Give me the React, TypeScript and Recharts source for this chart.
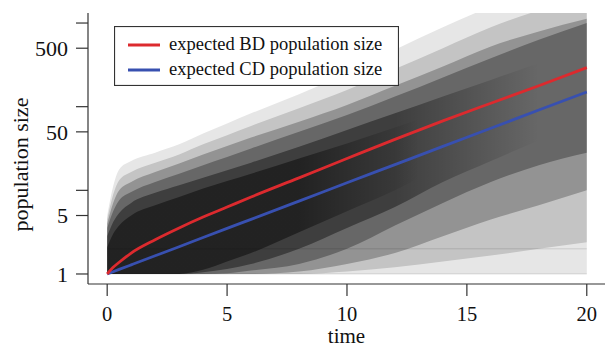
import React from "react";
import {
  ComposedChart,
  Area,
  Line,
  XAxis,
  YAxis,
  Legend,
  Label,
  ReferenceLine,
} from "recharts";

// ---- data ----
const times = [0, 0.25, 0.5, 1, 2, 3, 4, 5, 6, 8, 10, 12, 14, 16, 18, 20];
const bdExpected = [1, 1.2, 1.38, 1.78, 2.57, 3.55, 4.79, 6.31, 8.32, 14.1, 24.0, 40.7, 67.6, 110, 178, 293];
const cdExpected = [1, 1.065, 1.134, 1.285, 1.65, 2.12, 2.73, 3.51, 4.5, 7.43, 12.3, 20.3, 33.5, 55.2, 91.2, 150];

// simulated trajectory cloud, as nested envelopes (outer -> inner)
const band1Low = [1, 1, 1, 1, 1, 1, 1, 1, 1, 1, 1, 1, 1, 1, 1, 1];
const band1High = [5.0, 11.2, 17.8, 22.4, 28.2, 35.5, 47.9, 63.1, 83.2, 141, 251, 479, 891, 1585, 2818, 5012];
const band2Low = [1, 1, 1, 1, 1, 1, 1, 1, 1, 1, 1.07, 1.2, 1.41, 1.66, 2.0, 2.4];
const band2High = [4.47, 8.91, 13.2, 16.6, 21.4, 26.9, 35.5, 45.7, 58.9, 95.5, 158, 282, 501, 891, 1413, 2000];
const band3Low = [1, 1, 1, 1, 1, 1, 1, 1, 1, 1.07, 1.32, 1.78, 2.82, 4.47, 6.61, 10];
const band3High = [3.98, 7.08, 10, 12.6, 16.6, 20.9, 26.9, 33.9, 42.7, 66.1, 105, 178, 302, 525, 794, 1122];
const band4Low = [1, 1, 1, 1, 1, 1, 1, 1.02, 1.1, 1.32, 2.0, 3.8, 7.08, 12.6, 20, 28.2];
const band4High = [3.55, 5.62, 7.59, 9.55, 12.6, 15.8, 20, 25.1, 31.6, 50.1, 79.4, 132, 224, 380, 631, 1000];
const band5Low = [1, 1, 1, 1, 1, 1, 1.05, 1.15, 1.32, 2.0, 3.55, 6.31, 12.6, 22.4, 39.8, 70.8];
const band5High = [2.82, 4.17, 5.37, 7.08, 9.33, 11.5, 14.1, 17.4, 21.4, 33.1, 52.5, 83.2, 132, 209, 331, 525];
const band6Low = [1, 1, 1, 1, 1, 1, 1.12, 1.41, 1.78, 3.16, 5.62, 10, 20, 35.5, 63.1, 100];
const band6High = [2.09, 3.02, 3.8, 5.01, 6.61, 8.32, 10.5, 12.9, 15.8, 24.0, 36.3, 56.2, 89.1, 141, 224, 355];

// how dark each envelope is along time: [time, opacity] stops
const band1Shade = [[0, 0.1], [20, 0.1]];
const band2Shade = [[0, 0.15], [20, 0.15]];
const band3Shade = [[0, 0.25], [20, 0.25]];
const band4Shade = [[0, 0.3], [20, 0.3]];
const band5Shade = [[0, 0.4], [12, 0.4], [18, 0], [20, 0]];
const band6Shade = [[0, 0.45], [8, 0.45], [13, 0], [20, 0]];

const flatLevels = [1, 2];

const xTicks = [0, 5, 10, 15, 20];
const yTicks = [1, 5, 10, 50, 100, 500, 1000];
const yLabelled = [1, 5, 50, 500];

const bandLows = [band1Low, band2Low, band3Low, band4Low, band5Low, band6Low];
const bandHighs = [band1High, band2High, band3High, band4High, band5High, band6High];
const bandShades = [band1Shade, band2Shade, band3Shade, band4Shade, band5Shade, band6Shade];

const RED = "#dc2a2e";
const BLUE = "#3850b0";
const FONT = "'Liberation Serif', 'Times New Roman', serif";
const AXIS = "#333";
const T0 = times[0];
const T1 = times[times.length - 1];

const data = times.map((t, i) => {
  const row: Record<string, any> = { t, bd: bdExpected[i], cd: cdExpected[i] };
  bandLows.forEach((lo, b) => {
    row["band" + b] = [lo[i], bandHighs[b][i]];
  });
  return row;
});

const LegendBox = () => (
  <svg width={285} height={60} style={{ display: "block" }}>
    <rect x={0.5} y={0.5} width={284} height={59} fill="#fff" stroke={AXIS} strokeWidth={1.2} />
    <line x1={14} x2={46} y1={19} y2={19} stroke={RED} strokeWidth={3} />
    <text x={55} y={24} fontSize={18.5} fontFamily={FONT} fill="#111">
      expected BD population size
    </text>
    <line x1={14} x2={46} y1={44} y2={44} stroke={BLUE} strokeWidth={3} />
    <text x={55} y={49} fontSize={18.5} fontFamily={FONT} fill="#111">
      expected CD population size
    </text>
  </svg>
);

export default function App() {
  return (
    <div style={{ position: "absolute", left: 0, top: 0, fontFamily: FONT }}>
      <ComposedChart
        width={605}
        height={347}
        data={data}
        margin={{ top: 13, right: 0, bottom: 0, left: 0 }}
      >
        <defs>
          {bandShades.map((shade, b) => (
            <linearGradient key={"g" + b} id={"shade" + b} x1="0" y1="0" x2="1" y2="0">
              {shade.map(([t, op], k) => (
                <stop
                  key={k}
                  offset={(t - T0) / (T1 - T0)}
                  stopColor="#000"
                  stopOpacity={op}
                />
              ))}
            </linearGradient>
          ))}
        </defs>
        <XAxis
          xAxisId="top"
          orientation="top"
          type="number"
          dataKey="t"
          domain={[-0.8, 20.76]}
          height={0}
          tick={false}
          tickLine={false}
          axisLine={{ stroke: AXIS, strokeWidth: 1.2 }}
        />
        <XAxis
          type="number"
          dataKey="t"
          domain={[-0.8, 20.76]}
          ticks={xTicks}
          height={63}
          tickSize={12}
          tickMargin={10}
          axisLine={{ stroke: AXIS, strokeWidth: 1.2 }}
          tickLine={{ stroke: AXIS, strokeWidth: 1.2 }}
          tick={{ fill: "#111", fontSize: 20.5, fontFamily: FONT }}
        >
          <Label
            value="time"
            position="insideBottom"
            offset={4}
            style={{ fill: "#111", fontSize: 21, fontFamily: FONT }}
          />
        </XAxis>
        <YAxis
          scale="log"
          domain={[0.759, 1318]}
          allowDataOverflow
          ticks={yTicks}
          width={88}
          tickSize={12}
          tickMargin={8}
          tickFormatter={(v: number) => (yLabelled.includes(v) ? String(v) : "")}
          axisLine={{ stroke: AXIS, strokeWidth: 1.2 }}
          tickLine={{ stroke: AXIS, strokeWidth: 1.2 }}
          tick={{ fill: "#111", fontSize: 22, fontFamily: FONT }}
        >
          <Label
            value="population size"
            angle={-90}
            position="insideLeft"
            offset={20}
            dy={16}
            style={{ fill: "#111", fontSize: 22, fontFamily: FONT, textAnchor: "middle" }}
          />
        </YAxis>
        {bandShades.map((_, b) => (
          <Area
            key={"band" + b}
            dataKey={"band" + b}
            type="monotone"
            stroke="none"
            fill={`url(#shade${b})`}
            fillOpacity={1}
            isAnimationActive={false}
            activeDot={false}
          />
        ))}
        {flatLevels.map((lv) => (
          <ReferenceLine
            key={"lv" + lv}
            segment={[
              { x: T0, y: lv },
              { x: T1, y: lv },
            ]}
            stroke="#000"
            strokeOpacity={0.12}
            strokeWidth={1}
          />
        ))}
        <Line
          dataKey="cd"
          type="monotone"
          stroke={BLUE}
          strokeWidth={2.8}
          dot={false}
          activeDot={false}
          isAnimationActive={false}
        />
        <Line
          dataKey="bd"
          type="monotone"
          stroke={RED}
          strokeWidth={2.8}
          dot={false}
          activeDot={false}
          isAnimationActive={false}
        />
        <Legend
          layout="vertical"
          align="center"
          verticalAlign="middle"
          wrapperStyle={{ left: 114, top: 26, width: 285, height: 60 }}
          content={() => <LegendBox />}
        />
      </ComposedChart>
    </div>
  );
}
